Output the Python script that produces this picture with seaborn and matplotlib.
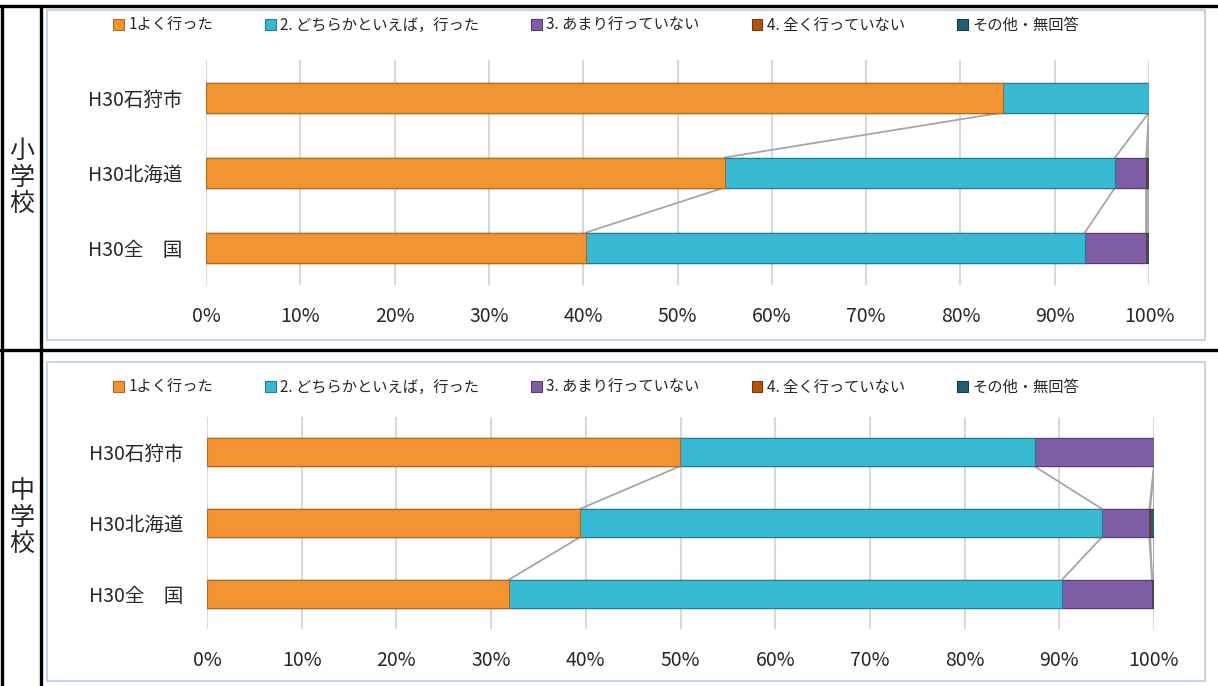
import pandas as pd
import seaborn as sns
import matplotlib.pyplot as plt
from matplotlib.patches import Patch, Rectangle
from matplotlib.lines import Line2D

categories = ["H30石狩市", "H30北海道", "H30全　国"]
series_labels = ["1よく行った", "2. どちらかといえば，行った", "3. あまり行っていない",
                 "4. 全く行っていない", "その他・無回答"]

# elementary school (小学校), percent per answer, in category order
elem_1 = [84.5, 55.0, 40.3]
elem_2 = [15.5, 41.4, 52.9]
elem_3 = [0.0, 3.3, 6.5]
elem_4 = [0.0, 0.1, 0.1]
elem_5 = [0.0, 0.2, 0.2]

# junior high school (中学校)
jr_1 = [49.9, 39.4, 31.9]
jr_2 = [37.5, 55.1, 58.4]
jr_3 = [12.6, 5.0, 9.5]
jr_4 = [0.0, 0.1, 0.0]
jr_5 = [0.0, 0.4, 0.2]

colors = ["#F29432", "#38B9D4", "#7F5EA8", "#B5540F", "#1F5F70"]
edges = ["#B8661A", "#237E93", "#553A78", "#7A360A", "#123C48"]


def make_df(series):
    rows = []
    for s, vals in zip(series_labels, series):
        for c, v in zip(categories, vals):
            rows.append({"category": c, "series": s, "value": v})
    df = pd.DataFrame(rows)
    df["cum"] = df.groupby("category", sort=False)["value"].cumsum()
    return df


df_elem = make_df([elem_1, elem_2, elem_3, elem_4, elem_5])
df_jr = make_df([jr_1, jr_2, jr_3, jr_4, jr_5])

sns.set_style("white")
plt.rcParams["font.family"] = ["Noto Sans CJK JP", "DejaVu Sans"]

fig = plt.figure(figsize=(12.18, 6.86), dpi=100)
W, H = 1218, 686


def fx(px):
    return px / W


def fy(py):
    return 1 - py / H


def draw_panel(df, rect):
    ax = fig.add_axes(rect)
    # stacked bars: draw cumulative totals from the last series down to the first
    for k in reversed(range(len(series_labels))):
        sub = df[df["series"] == series_labels[k]]
        sns.barplot(data=sub, x="cum", y="category", order=categories, orient="h",
                    color=colors[k], saturation=1, width=0.4, errorbar=None,
                    edgecolor=edges[k], linewidth=0.8, ax=ax, zorder=3)
    # series lines between neighbouring bars
    for k in range(len(series_labels)):
        cum = df[df["series"] == series_labels[k]]["cum"].tolist()
        for i in range(len(categories) - 1):
            ax.plot([cum[i], cum[i + 1]], [i + 0.2, i + 0.8], color="#A6A6A6",
                    lw=1.3, zorder=2)
    ax.set_xlim(0, 100)
    ax.set_ylim(2.5, -0.5)
    ax.set_xticks(range(0, 101, 10))
    ax.set_xticklabels([f"{v}%" for v in range(0, 101, 10)], fontsize=14)
    ax.tick_params(axis="x", length=0, pad=15)
    ax.tick_params(axis="y", length=0, pad=17, labelsize=14)
    ax.set_xlabel("")
    ax.set_ylabel("")
    ax.set_axisbelow(True)
    ax.xaxis.grid(True, color="#D9D9D9", lw=1.5)
    sns.despine(ax=ax, left=True, bottom=True)
    return ax


# chart frames
for top, bottom in [(10, 340), (362, 681)]:
    fig.add_artist(Rectangle((fx(47), fy(bottom)), fx(1205) - fx(47), fy(top) - fy(bottom),
                             transform=fig.transFigure, facecolor="white",
                             edgecolor="#C5D4E6", lw=1.5, zorder=0))

draw_panel(df_elem, [fx(206), fy(285), fx(1149) - fx(206), fy(60) - fy(285)])
draw_panel(df_jr, [fx(207), fy(629), fx(1154) - fx(207), fy(417) - fy(629)])

handles = [Patch(facecolor=colors[k], edgecolor=edges[k], lw=0.8) for k in range(5)]
for ly in [25, 387]:
    fig.legend(handles, series_labels, loc="center", bbox_to_anchor=(fx(596), fy(ly)),
               ncol=5, frameon=False, fontsize=11, handlelength=0.7, handleheight=0.7,
               handletextpad=0.3, columnspacing=3.4)

# table lines
for y in [6, 350]:
    fig.add_artist(Line2D([0, 1], [fy(y), fy(y)], color="black", lw=2.4,
                          transform=fig.transFigure))
for x in [2, 41]:
    fig.add_artist(Line2D([fx(x), fx(x)], [0, fy(6)], color="black", lw=2.4,
                          transform=fig.transFigure))

fig.text(fx(22), fy(178), "小\n学\n校", ha="center", va="center", fontsize=18,
         linespacing=1.05)
fig.text(fx(22), fy(518), "中\n学\n校", ha="center", va="center", fontsize=18,
         linespacing=1.05)

fig.savefig("out.png", dpi=100)
